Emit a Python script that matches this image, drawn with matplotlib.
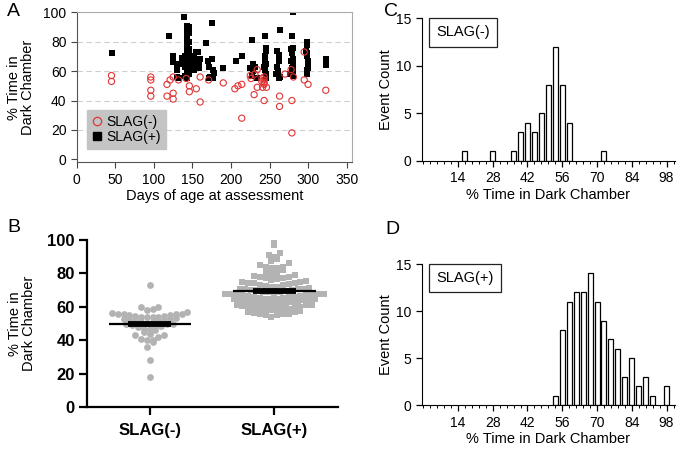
import numpy as np
import matplotlib
matplotlib.use("Agg")
import matplotlib.pyplot as plt
from matplotlib.lines import Line2D

plt.rcParams['font.family'] = ['Liberation Sans', 'DejaVu Sans']

# ---------------- data ----------------
# Panel A: SLAG(-) (days, % time)
neg_days = [45, 45, 96, 96, 96, 96, 117, 117, 125, 125, 125, 132, 146, 146, 155, 160, 160,
            171, 190, 205, 214, 214, 226, 230, 234, 231, 234, 243, 243, 243, 243, 241, 246,
            243, 263, 263, 279, 279, 281, 278, 295, 295, 300, 323, 142, 240, 240, 225, 270,
            121, 209]
neg_pct = [57, 53, 56, 54, 47, 43, 51, 43, 56, 45, 41, 54, 50, 46, 48, 56, 39,
           54, 52, 48, 51, 28, 55, 44, 49, 58, 61, 56, 54, 52, 51, 49, 49,
           40, 43, 36, 40, 18, 56, 61, 73, 54, 51, 47, 55, 53, 55, 57, 58,
           54, 50]
# Panel A: SLAG(+) (days, % time)
pos_days = [46, 120, 125, 125, 130, 130, 130, 139, 137, 137, 140,
            143, 143, 143, 143, 143, 143, 143, 143, 143, 143, 143, 143, 143,
            146, 146, 146, 146, 146, 146, 146, 146,
            152, 152, 152, 155, 157, 158, 158,
            168, 170, 172, 172, 173, 175, 176, 177, 177,
            190, 207, 214,
            227, 228, 227, 231, 228, 234,
            244, 245, 246, 244, 246, 244, 246, 245,
            262, 263, 262, 260, 261, 263, 262,
            278, 280, 279, 280, 279, 280, 280, 280, 281, 279,
            298, 299, 298, 299, 300, 299, 298, 300,
            323, 323,
            141, 141, 133, 149, 178, 225, 244, 260, 277, 297, 300, 160, 278, 243, 258]
pos_pct = [72, 84, 70, 66, 65, 61, 56, 97, 65, 69, 70,
           91, 88, 85, 82, 79, 76, 73, 70, 67, 64, 61, 58, 55,
           90, 86, 80, 75, 71, 66, 62, 58,
           69, 65, 61, 73, 73, 66, 62,
           79, 67, 63, 55, 56, 93, 68, 61, 55,
           62, 67, 70,
           81, 65, 57, 63, 60, 55,
           84, 76, 74, 67, 65, 61, 55, 58,
           71, 88, 67, 63, 60, 56, 55,
           75, 100, 84, 76, 72, 68, 65, 61, 57, 62,
           80, 78, 72, 70, 67, 61, 58, 64,
           68, 64,
           63, 57, 55, 70, 59, 62, 70, 74, 58, 74, 62, 68, 67, 63, 58]

# Panel B: column scatter values
b_categories = ['SLAG(-)', 'SLAG(+)']
b_neg = [18, 28, 36, 39, 40, 40, 41, 42, 43, 43, 44, 45, 46, 47, 47, 48, 48, 48.5,
         49, 49.5, 50, 50, 50.5, 51, 51, 51.5, 52, 52, 52.5, 53, 53, 53.5, 54, 54, 54, 54,
         54.5, 54.5, 55, 55, 55.5, 56, 56, 56, 56.5, 57, 58, 59, 60, 60, 73]
b_pos = [54, 55, 55, 55.5, 56, 56, 56.5, 57, 57,
         57.5, 58, 58, 58.5, 59, 59, 59, 59.5, 60, 60, 60,
         60.5, 61, 61, 61, 61.5, 62, 62, 62, 62.5, 62.5, 63, 63,
         63.5, 63.5, 64, 64, 64, 64.5, 64.5, 65, 65, 65, 65.5, 65.5,
         66, 66, 66, 66.5, 66.5, 67, 67, 67, 67.5, 67.5, 68, 68, 68, 68.5,
         69, 69, 69, 69.5, 70, 70, 70, 70.5, 71, 71, 71,
         71.5, 72, 72, 72.5, 73, 73, 73.5, 74, 74,
         74.5, 75, 75, 75.5, 76, 76.5, 77,
         77.5, 78, 78, 78.5, 79, 79.5,
         80, 81, 82, 83, 83, 84, 84, 85, 86, 87.5, 88.5, 90, 91, 92.5, 97, 99]

# Panels C, D: histograms
neg_bin_centers = [16.8, 28.0, 36.4, 39.2, 42.0, 44.8, 47.6, 50.4, 53.2, 56.0, 58.8, 72.8]
neg_counts = [1, 1, 1, 3, 4, 3, 5, 8, 12, 8, 4, 1]
pos_bin_centers = [53.2, 56.0, 58.8, 61.6, 64.4, 67.2, 70.0, 72.8, 75.6, 78.4, 81.2, 84.0,
                   86.8, 89.6, 92.4, 98.0]
pos_counts = [1, 8, 11, 12, 12, 14, 11, 9, 7, 6, 3, 5, 2, 3, 1, 2]
hist_ticks = [14, 28, 42, 56, 70, 84, 98]

# ---------------- figure ----------------
W, H = 685, 454
fig = plt.figure(figsize=(W / 100, H / 100), dpi=100)


def rect(l, t, r, b):
    return [l / W, 1 - b / H, (r - l) / W, (b - t) / H]


# ---- Panel A ----
axA = fig.add_axes(rect(76.8, 12.3, 352, 162.3))
axA.set_xlim(0, 357)
axA.set_ylim(-2, 100)
for y in [20, 40, 60, 80]:
    axA.axhline(y, color='#cfcfcf', lw=0.8, ls=(0, (5, 3)), zorder=0)
axA.scatter(neg_days, neg_pct, s=20, facecolors='none', edgecolors='#e03535',
            linewidths=0.8, zorder=3)
axA.scatter(pos_days, pos_pct, s=20, marker='s', color='black', linewidths=0, zorder=2)
axA.set_xticks(range(0, 351, 50))
axA.set_yticks(range(0, 101, 20))
axA.tick_params(labelsize=10, direction='out', length=4, width=0.8, color='#444444')
for sp in ['left', 'bottom']:
    axA.spines[sp].set_color('#555555')
for sp in ['top', 'right']:
    axA.spines[sp].set_color('#aaaaaa')
axA.set_xlabel('Days of age at assessment', fontsize=10.5, labelpad=2)
axA.set_ylabel('% Time in\nDark Chamber', fontsize=10.5, labelpad=6, linespacing=1.0)
handles = [Line2D([], [], ls='none', marker='o', mfc='none', mec='#e03535', ms=6, mew=0.9),
           Line2D([], [], ls='none', marker='s', color='black', ms=6)]
leg = axA.legend(handles, ['SLAG(-)', 'SLAG(+)'], loc='lower left',
                 bbox_to_anchor=(0.037, 0.09), borderaxespad=0, fontsize=10,
                 handlelength=0.7, handletextpad=0.35, labelspacing=0.1,
                 borderpad=0.35, frameon=True, fancybox=False)
leg.get_frame().set_facecolor('#c4c4c4')
leg.get_frame().set_edgecolor('#c4c4c4')
leg.get_frame().set_alpha(1)

# ---- Panel B ----
axB = fig.add_axes(rect(87.3, 240, 338, 407.3))
axB.set_xlim(-0.5, 1.51)
axB.set_ylim(0, 100)
px_x = (338 - 87.3) / 2.01


def row_scatter(values, row_h, spacing_px):
    """Prism-like column scatter: values grouped in rows, spread sideways,
    lowest values of each row in the middle (V shape)."""
    values = np.asarray(values, dtype=float)
    offs = np.zeros(len(values))
    rows = np.floor(values / row_h).astype(int)
    for r in np.unique(rows):
        idx = np.where(rows == r)[0]
        idx = idx[np.argsort(values[idx], kind='stable')]
        n = len(idx)
        pos = (np.arange(n) - (n - 1) / 2.0) * spacing_px
        pos = pos[np.argsort(np.abs(pos) + 1e-6 * np.sign(pos), kind='stable')]
        offs[idx] = pos / px_x
    return offs


gray = '#b3b3b3'
for idx, (vals, mk) in enumerate([(b_neg, 'o'), (b_pos, 's')]):
    vals = np.array(vals, dtype=float)
    offs = row_scatter(vals, 3.6, 5.8)
    axB.scatter(idx + offs, vals, s=24, marker=mk, color=gray, linewidths=0, zorder=2)
    m = vals.mean()
    axB.hlines(m, idx - 0.33, idx + 0.33, color='black', lw=1.6, zorder=3)
    axB.hlines(m, idx - 0.17, idx + 0.17, color='black', lw=4.2, zorder=3)

axB.set_xticks([0, 1])
axB.set_xticklabels(b_categories, fontsize=12, fontweight='bold')
axB.set_yticks(range(0, 101, 20))
axB.set_yticklabels([str(v) for v in range(0, 101, 20)], fontsize=12, fontweight='bold')
axB.tick_params(direction='out', length=6, width=1.6, pad=3)
axB.tick_params(axis='x', pad=5)
for sp in ['top', 'right']:
    axB.spines[sp].set_visible(False)
for sp in ['left', 'bottom']:
    axB.spines[sp].set_linewidth(1.6)
axB.set_ylabel('% Time in\nDark Chamber', fontsize=10.5, labelpad=8, linespacing=1.0)


# ---- Panels C, D ----
def hist_panel(ax, centers, counts, label):
    ax.bar(centers, counts, width=2.0, color='white', edgecolor='black', linewidth=0.9,
           zorder=2)
    ax.set_xlim(-0.6, 101.4)
    ax.set_ylim(0, 15)
    ax.set_xticks(hist_ticks)
    ax.set_xticks(np.arange(0, 101, 2.8), minor=True)
    ax.set_yticks([0, 5, 10, 15])
    ax.tick_params(labelsize=10, direction='out', length=4, width=0.9)
    ax.tick_params(which='minor', direction='out', length=2, width=0.7)
    for sp in ['top', 'right']:
        ax.spines[sp].set_visible(False)
    ax.set_xlabel('% Time in Dark Chamber', fontsize=10.5, labelpad=2)
    ax.set_ylabel('Event Count', fontsize=10.5, labelpad=2)
    ax.text(0.058, 0.95, label, transform=ax.transAxes, fontsize=10.5, ha='left', va='top',
            bbox=dict(boxstyle='square,pad=0.5', fc='white', ec='#222222', lw=0.9))


axC = fig.add_axes(rect(421.7, 18.3, 675, 160.7))
hist_panel(axC, neg_bin_centers, neg_counts, 'SLAG(-)')
axD = fig.add_axes(rect(421.7, 264, 675, 405.3))
hist_panel(axD, pos_bin_centers, pos_counts, 'SLAG(+)')

# panel letters
for txt, x, y in [('A', 13, 12), ('B', 14, 228), ('C', 391, 12), ('D', 392, 229)]:
    fig.text(x / W, 1 - y / H, txt, fontsize=14, ha='center', va='center')

fig.savefig('out.png', dpi=100)
